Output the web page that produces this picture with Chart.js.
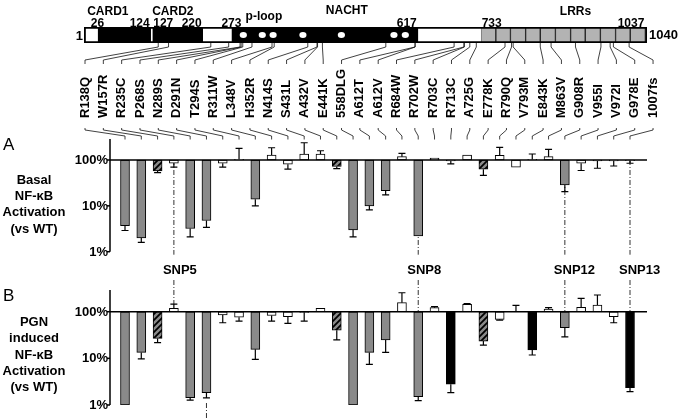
<!DOCTYPE html>
<html><head><meta charset="utf-8">
<script src="https://cdn.jsdelivr.net/npm/chart.js@4.4.0/dist/chart.umd.min.js"></script>
<style>
html,body{margin:0;padding:0;background:#fff;}
#wrap{position:relative;width:680px;height:420px;overflow:hidden;background:#fff;}
#wrap canvas{position:absolute;left:0;top:0;}
</style></head><body>
<div id="wrap">
<canvas id="cHead" width="680" height="420"></canvas>
<canvas id="cA" width="680" height="420"></canvas>
<canvas id="cB" width="680" height="420"></canvas>
</div>
<script>
// ---------------- DATA ----------------
const mutations = ["R138Q","W157R","R235C","P268S","N289S","D291N","T294S","R311W","L348V","H352R","N414S","S431L","A432V","E441K","558DLG","A612T","A612V","R684W","R702W","R703C","R713C","A725G","E778K","R790Q","V793M","E843K","M863V","G908R","V955I","V972I","G978E","1007fs"];
const residues = [138,157,235,268,289,291,294,311,348,352,414,431,432,441,558,612,612,684,702,703,713,725,778,790,793,843,863,908,955,972,978,1007];

// Panel A: basal NF-kB activation (% of WT), error-bar ends, bar class
const basalValues = [3.7,2.0,58,85,3.2,4.8,85,104,14,128,81,135,135,72,3.0,10,21.5,118,2.2,110,95,128,63,126,70,103,118,28.6,85,95,96,97];
const basalErrors = [2.9,1.6,53,70,2.1,3.4,70,180,10,185,63,238,159,65,2.1,8.2,17.4,140,2.2,112,82,131,46,189,68,135,171,20.5,59,66,74,85];
const basalClass  = ["g","g","h","w","g","g","w","w","g","w","w","w","w","h","g","g","g","w","g","w","w","w","h","w","w","w","w","g","w","w","w","w"];

// Panel B: PGN induced NF-kB activation (% of WT)
const pgnValues = [1.0,13.4,26.8,118,1.43,1.84,85,76,15.6,83,78,97,118,40,1.0,13.4,24.7,156,1.5,122,2.8,144,23.5,68.5,102,15.1,114,45.4,124,139,78,2.35];
const pgnErrors = [1.0,9.7,21.8,146,1.27,1.42,58,63,9.5,63,56,63,121,25,1.0,7.4,13.4,255,1.24,128,1.84,150,19.3,66,137,11.8,122,29,193,228,58,1.94];
const pgnClass  = ["g","g","h","w","g","g","w","w","g","w","w","w","w","h","g","g","g","w","g","w","b","w","h","w","w","b","w","g","w","w","w","b"];

const yTickValues = [1, 10, 100];
const snpIndex = [3, 18, 27, 31];
const snpNames = ["SNP5","SNP8","SNP12","SNP13"];
const pgnLowerMarks = [5];

// protein diagram (residue numbers)
const domainSegments = [[1,26,"w"],[26,124,"k"],[124,127,"w"],[127,220,"k"],[220,273,"w"],[273,617,"k"],[617,733,"w"],
  [733,761,"l"],[761,788,"l"],[788,816,"l"],[816,843,"l"],[843,871,"l"],[871,899,"l"],[899,926,"l"],[926,954,"l"],[954,982,"l"],[982,1009,"l"],[1009,1037,"l"],[1037,1040,"w"]];
const motifResidues = [295,330,350,405,476,573,594];
const boundaryLabels = [26,124,127,220,273,617,733,1037];
const boundaryAlign = ["center","right","left","right","center","right","left","right"];
const domainNames = ["CARD1","CARD2","p-loop","NACHT","LRRs"];
const domainAnchors = [45,165,333,486,908];
const domainBaselines = [15,15,19.5,13.5,15];
const basalTitle = ["Basal","NF-\u03baB","Activation","(vs WT)"];
const pgnTitle = ["PGN","induced","NF-\u03baB","Activation","(vs WT)"];

// ---------------- STYLE ----------------
const FAM = '"Liberation Sans", Arial, Helvetica, sans-serif';
const fnt = (sz, w) => `${w||'bold'} ${sz}px ${FAM}`;
const GRAY = '#8a8a8a';
Chart.defaults.font.family = FAM;

function makeHatch(){
  const c = document.createElement('canvas'); c.width = 6; c.height = 6;
  const g = c.getContext('2d');
  g.fillStyle = GRAY; g.fillRect(0,0,6,6);
  g.strokeStyle = '#000'; g.lineWidth = 1.8; g.beginPath();
  g.moveTo(-1,7); g.lineTo(7,-1);
  g.moveTo(-4,4); g.lineTo(4,-4);
  g.moveTo(2,10); g.lineTo(10,2);
  g.stroke();
  return g.createPattern(c,'repeat');
}
const HATCH = makeHatch();
const fillFor = c => c==='g' ? GRAY : c==='h' ? HATCH : c==='b' ? '#000' : '#fff';

// ---------------- HEADER (protein diagram + labels) ----------------
const segColors = {w:'#ffffff', k:'#000000', l:'#b3b3b3'};
const headDatasets = [{
  data:[[1,1040]], backgroundColor:'rgba(0,0,0,0)', borderColor:'#000', borderWidth:1.5,
  borderSkipped:false, grouped:false, barPercentage:1, categoryPercentage:1, xAxisID:'x', yAxisID:'y'
}].concat(domainSegments.map(s => ({
  data:[[s[0], s[1]]], backgroundColor:segColors[s[2]], borderColor:'#222',
  borderWidth: s[2]==='l' ? 1 : 0, borderSkipped:false, grouped:false,
  barPercentage:1, categoryPercentage:1, xAxisID:'x', yAxisID:'y'
})));

const headPlugin = {
  id:'head',
  afterDraw(chart){
    const ctx = chart.ctx, xs = chart.scales.x, xl = chart.scales.xl;
    const top = chart.chartArea.top, bot = chart.chartArea.bottom, mid = (top+bot)/2;
    ctx.save();
    ctx.fillStyle = '#fff';
    motifResidues.forEach(r => { ctx.beginPath(); ctx.ellipse(xs.getPixelForValue(r), mid, 3.6, 3, 0, 0, Math.PI*2); ctx.fill(); });
    ctx.fillStyle = '#000'; ctx.font = fnt(12); ctx.textBaseline = 'alphabetic';
    boundaryLabels.forEach((b,i) => {
      const a = boundaryAlign[i]; ctx.textAlign = a;
      const dx = a==='left' ? 1 : a==='right' ? -1 : 0;
      ctx.fillText(String(b), xs.getPixelForValue(b)+dx, 26.5);
    });
    ctx.textAlign = 'center';
    domainNames.forEach((n,i) => ctx.fillText(n, xs.getPixelForValue(domainAnchors[i]), domainBaselines[i]));
    ctx.font = fnt(13); ctx.textAlign = 'right'; ctx.fillText('1', xs.getPixelForValue(1)-1, 40);
    ctx.textAlign = 'left'; ctx.fillText('1040', xs.getPixelForValue(1040)+2, 39);
    ctx.strokeStyle = '#111'; ctx.lineWidth = 0.8;
    residues.forEach((r,i) => {
      const rx = xs.getPixelForValue(r), lx = xl.getPixelForValue(i);
      ctx.beginPath(); ctx.moveTo(rx, bot); ctx.lineTo(rx, bot+4); ctx.lineTo(lx, bot+17); ctx.lineTo(lx, bot+21); ctx.stroke();
    });
    ctx.font = fnt(13); ctx.textAlign = 'left'; ctx.textBaseline = 'middle'; ctx.fillStyle = '#000';
    mutations.forEach((m,i) => {
      ctx.save(); ctx.translate(xl.getPixelForValue(i), 118); ctx.rotate(-Math.PI/2); ctx.fillText(m, 0, 0); ctx.restore();
    });
    ctx.restore();
  }
};

const headChart = new Chart(document.getElementById('cHead'), {
  type:'bar',
  data:{ labels:['NOD2'], datasets: headDatasets },
  options:{
    responsive:false, animation:false, events:[], indexAxis:'y',
    layout:{ padding:{ left:84, right:33, top:27, bottom:377 } },
    plugins:{ legend:{display:false}, tooltip:{enabled:false} },
    scales:{
      x:{ type:'linear', min:1, max:1040, display:false, bounds:'data', offset:false },
      xl:{ type:'linear', axis:'x', min:-0.055, max:30.67, display:false, bounds:'data', offset:false },
      y:{ type:'category', display:false }
    }
  },
  plugins:[headPlugin]
});

// ---------------- PANELS ----------------
function dashLine(ctx, x, y1, y2){
  ctx.save(); ctx.strokeStyle = '#333'; ctx.lineWidth = 1; ctx.setLineDash([5,2,1,2]);
  ctx.beginPath(); ctx.moveTo(x, y1); ctx.lineTo(x, y2); ctx.stroke(); ctx.restore();
}

function makePanel(id, values, errors, classes, cfg){
  const plugin = {
    id:'panel'+id,
    beforeDatasetsDraw(chart){
      const ctx = chart.ctx, y = chart.scales.y, meta = chart.getDatasetMeta(0), ca = chart.chartArea;
      snpIndex.forEach(i => {
        const x = meta.data[i].x;
        if (cfg.snpBelow) dashLine(ctx, x, y.getPixelForValue(100), ca.bottom + 3);
        else dashLine(ctx, x, ca.top - 10, Math.min(y.getPixelForValue(values[i]), y.getPixelForValue(errors[i]), y.getPixelForValue(100)));
      });
      (cfg.lowerMarks||[]).forEach(i => dashLine(ctx, meta.data[i].x, ca.bottom - 2, 420));
    },
    afterDatasetsDraw(chart){
      const ctx = chart.ctx, y = chart.scales.y, meta = chart.getDatasetMeta(0), ca = chart.chartArea;
      ctx.save();
      // y axis (drawn from the library's log scale)
      ctx.strokeStyle = '#000'; ctx.lineWidth = 1.5;
      ctx.beginPath(); ctx.moveTo(ca.left, ca.top); ctx.lineTo(ca.left, ca.bottom); ctx.stroke();
      ctx.fillStyle = '#000'; ctx.font = fnt(13); ctx.textAlign = 'right'; ctx.textBaseline = 'middle';
      yTickValues.forEach(v => {
        const py = y.getPixelForValue(v);
        ctx.beginPath(); ctx.moveTo(ca.left - 3, py); ctx.lineTo(ca.left, py); ctx.stroke();
        ctx.fillText(v + '%', ca.left - 2, py + 0.5);
      });
      // error bars
      ctx.lineWidth = 1.2;
      values.forEach((v,i) => {
        const x = meta.data[i].x, yv = y.getPixelForValue(v), ye = y.getPixelForValue(errors[i]);
        if (Math.abs(ye-yv) < 0.6) return;
        ctx.beginPath(); ctx.moveTo(x, yv); ctx.lineTo(x, ye); ctx.moveTo(x-3.5, ye); ctx.lineTo(x+3.5, ye); ctx.stroke();
      });
      // 100% baseline
      const yb = y.getPixelForValue(100);
      ctx.lineWidth = 1.5; ctx.beginPath(); ctx.moveTo(ca.left, yb); ctx.lineTo(ca.right, yb); ctx.stroke();
      // connectors label -> bar (panel A only)
      if (cfg.connectors){
        const xl = headChart.scales.xl;
        ctx.strokeStyle = '#111'; ctx.lineWidth = 0.8;
        values.forEach((v,i) => {
          const lx = xl.getPixelForValue(i), bx = meta.data[i].x;
          ctx.beginPath(); ctx.moveTo(lx, ca.top-11); ctx.lineTo(lx, ca.top-9); ctx.lineTo(bx, ca.top-3); ctx.lineTo(bx, ca.top+0.5); ctx.stroke();
        });
      }
      if (cfg.snpLabels){
        ctx.fillStyle = '#000'; ctx.font = fnt(13); ctx.textAlign = 'left'; ctx.textBaseline = 'alphabetic';
        snpIndex.forEach((i,k) => ctx.fillText(snpNames[k], meta.data[i].x - 11, 274));
      }
      ctx.fillStyle = '#000'; ctx.font = fnt(17, 'normal'); ctx.textAlign = 'left'; ctx.textBaseline = 'alphabetic';
      ctx.fillText(cfg.letter, 3, cfg.letterY);
      ctx.font = fnt(13); ctx.textAlign = 'center'; ctx.textBaseline = 'middle';
      cfg.title.forEach((t,k) => ctx.fillText(t, 34, cfg.titleY + k*16.2));
      ctx.restore();
    }
  };
  return new Chart(document.getElementById(id), {
    type:'bar',
    data:{ datasets:[{
      data: values.map((v,i) => ({ x:i, y:[100, v] })),
      backgroundColor: classes.map(fillFor),
      borderColor:'#000', borderWidth:1, borderSkipped:false, barThickness:9
    }]},
    options:{
      responsive:false, animation:false, events:[],
      layout:{ padding:{ left:110, right:33, top:cfg.top, bottom:420-cfg.bottom } },
      plugins:{ legend:{display:false}, tooltip:{enabled:false} },
      scales:{
        x:{ type:'linear', min:-0.921, max:32.043, display:false, offset:false, bounds:'data', grid:{offset:false} },
        y:{ type:'logarithmic', min:1, max:cfg.max, display:false, bounds:'data' }
      }
    },
    plugins:[plugin]
  });
}

makePanel('cA', basalValues, basalErrors, basalClass,
  { top:139, bottom:251.7, max:287, snpBelow:true, connectors:true, snpLabels:true, letter:'A', letterY:150, title:basalTitle, titleY:180.5 });
makePanel('cB', pgnValues, pgnErrors, pgnClass,
  { top:290, bottom:405, max:292, snpBelow:false, lowerMarks:pgnLowerMarks, letter:'B', letterY:301, title:pgnTitle, titleY:322.6 });
</script>
</body></html>
